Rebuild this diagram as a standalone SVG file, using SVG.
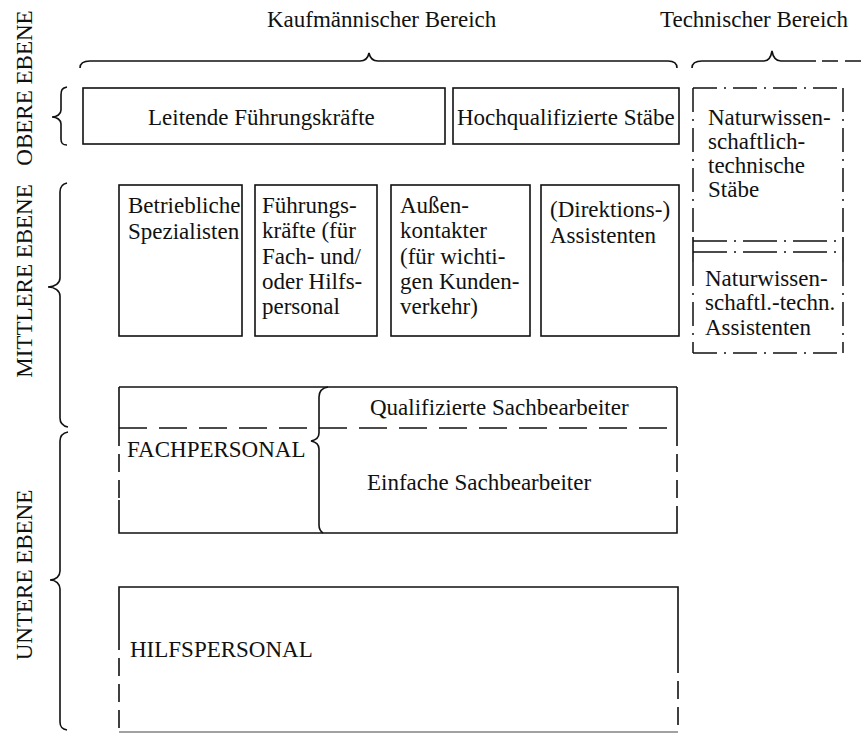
<svg xmlns="http://www.w3.org/2000/svg" width="861" height="734" viewBox="0 0 861 734">
<style>
text{font-family:"Liberation Serif","Times New Roman",serif;font-size:23px;fill:#111}
.box{fill:none;stroke:#111;stroke-width:1.6}
.ln{fill:none;stroke:#111;stroke-width:1.6}
.dash{fill:none;stroke:#111;stroke-width:1.6;stroke-dasharray:28 12}
.vdash{fill:none;stroke:#111;stroke-width:1.6;stroke-dasharray:18 8}
.dd{fill:none;stroke:#111;stroke-width:1.5;stroke-dasharray:24 7 2 7}
.dd2{fill:none;stroke:#111;stroke-width:1.5;stroke-dasharray:34 7 2 7}
.brace{fill:none;stroke:#111;stroke-width:1.6}
.lab{font-size:23px}
</style>
<rect width="861" height="734" fill="#fff"/>

<g id="labels">
<text x="267" y="27">Kaufmännischer Bereich</text>
<text x="660" y="27">Technischer Bereich</text>
<text class="lab" transform="translate(32,88) rotate(-90)" text-anchor="middle">OBERE EBENE</text>
<text class="lab" transform="translate(32,281) rotate(-90)" text-anchor="middle">MITTLERE EBENE</text>
<text class="lab" transform="translate(32,575) rotate(-90)" text-anchor="middle">UNTERE EBENE</text>
</g>

<g id="connectors">
<path class="brace" d="M80,68 C80,63 83,61 90,61 L360,61 C365,61 368,58 369,53 C370,58 373,61 378,61 L668,61 C674,61 677,63 677,68"/>
<path class="brace" d="M692,68 C692,63 696,61 702,61 L764,61 C769,61 771,57 772,51 C773,57 775,61 781,61 L816,61"/>
<path class="brace" d="M822,61 L861,61" style="stroke-dasharray:16 7"/>
<path class="brace" d="M67,87 C62,88 61,90 61,95 L61,110 C61,114 57,117 52,117 C57,117 61,120 61,124 L61,139 C61,143 62,145 67,145"/>
<path class="brace" d="M67,183 C62,184 60,187 60,192 L60,278 C60,283 55,287 48,287 C55,287 60,291 60,296 L60,418 C60,423 63,426 68,427"/>
<path class="brace" d="M68,432 C63,433 60,436 60,441 L60,571 C60,576 56,580 50,580 C56,580 60,584 60,589 L60,722 C60,727 62,729 67,730"/>
</g>

<g id="leitende">
<rect class="box" x="83" y="88" width="362" height="56"/>
<text x="148" y="125">Leitende Führungskräfte</text>
</g>

<g id="hochqualifizierte">
<rect class="box" x="453" y="88" width="226" height="56"/>
<text x="457" y="125">Hochqualifizierte Stäbe</text>
</g>

<g id="technisch">
<path class="dd" d="M693,88 L843,88"/>
<path class="dd" d="M693,88 L693,237"/>
<path class="dd" d="M843,88 L843,237"/>
<path class="ln" d="M693,237 L693,262 M843,237 L843,262"/>
<path class="dd2" d="M693,241 L843,241"/>
<path class="dd2" d="M693,252 L843,252"/>
<path class="dd" d="M693,262 L693,353"/>
<path class="dd" d="M843,262 L843,353"/>
<path class="dd" d="M693,353 L843,353"/>
<text x="708" y="125">Naturwissen-</text>
<text x="708" y="149">schaftlich-</text>
<text x="708" y="173">technische</text>
<text x="708" y="197">Stäbe</text>
<text x="705" y="286">Naturwissen-</text>
<text x="705" y="310">schaftl.-techn.</text>
<text x="705" y="335">Assistenten</text>
</g>

<g id="spezialisten">
<rect class="box" x="119" y="185" width="123" height="151"/>
<text x="128" y="213">Betriebliche</text>
<text x="128" y="239">Spezialisten</text>
</g>

<g id="fuehrungskraefte">
<rect class="box" x="255" y="185" width="122" height="151"/>
<text x="262" y="213">Führungs-</text>
<text x="262" y="238">kräfte (für</text>
<text x="262" y="264">Fach- und/</text>
<text x="262" y="289">oder Hilfs-</text>
<text x="262" y="314">personal</text>
</g>

<g id="aussenkontakter">
<rect class="box" x="391" y="185" width="139" height="151"/>
<text x="400" y="213">Außen-</text>
<text x="400" y="238">kontakter</text>
<text x="400" y="264">(für wichti-</text>
<text x="400" y="289">gen Kunden-</text>
<text x="400" y="314">verkehr)</text>
</g>

<g id="assistenten">
<rect class="box" x="541" y="185" width="138" height="151"/>
<text x="550" y="217">(Direktions-)</text>
<text x="550" y="243">Assistenten</text>
</g>

<g id="fachpersonal">
<path class="ln" d="M119,387 L677,387"/>
<path class="ln" d="M119,387 L119,428 M677,387 L677,428"/>
<path class="dash" d="M119,428 L677,428"/>
<path class="vdash" d="M119,428 L119,500"/>
<path class="ln" d="M119,500 L119,533 L677,533 L677,518"/>
<path class="vdash" d="M677,428 L677,518"/>
<path class="brace" d="M328,387 C322,388 319,391 319,397 L319,433 C319,437 316,440 311,441 C316,442 319,445 319,449 L319,525 C319,529 320,531 323,533"/>
<text x="127" y="457">FACHPERSONAL</text>
<text x="370" y="415">Qualifizierte Sachbearbeiter</text>
<text x="367" y="490">Einfache Sachbearbeiter</text>
</g>

<g id="hilfspersonal">
<path class="ln" d="M119,632 L119,587 L678,587 L678,655"/>
<path class="vdash" d="M119,632 L119,732"/>
<path class="vdash" d="M678,655 L678,732"/>
<path class="ln" d="M119,732 L678,732" style="stroke:#444;stroke-width:1.2"/>
<text x="130" y="657">HILFSPERSONAL</text>
</g>
</svg>
